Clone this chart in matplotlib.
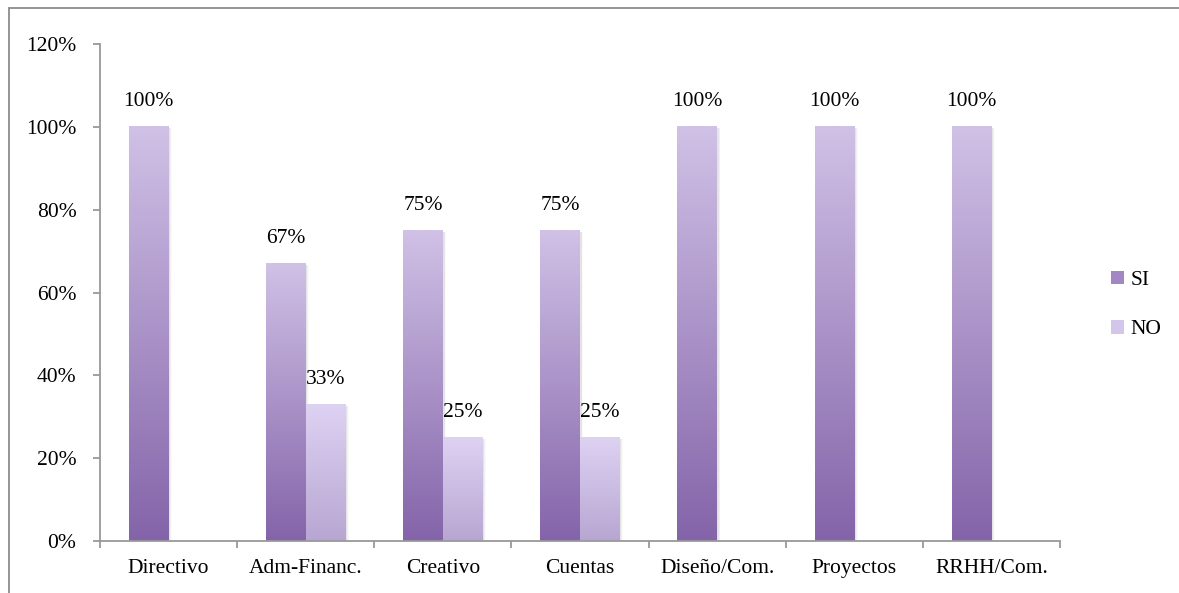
import numpy as np
import matplotlib
matplotlib.use("Agg")
import matplotlib.pyplot as plt
from matplotlib.colors import LinearSegmentedColormap
from matplotlib.patches import Rectangle
from matplotlib.ticker import FuncFormatter

categories = ["Directivo", "Adm-Financ.", "Creativo", "Cuentas", "Diseño/Com.", "Proyectos", "RRHH/Com."]
si_values = [100, 67, 75, 75, 100, 100, 100]
no_values = [0, 33, 25, 25, 0, 0, 0]
series_names = ["SI", "NO"]

plt.rcParams["font.family"] = ["Liberation Serif", "DejaVu Serif"]
FS = 15.5

fig = plt.figure(figsize=(11.79, 5.93), dpi=100)
ax = fig.add_axes([100 / 1179, 1 - 541 / 593, 960 / 1179, (541 - 44) / 593])

# outer chart frame (top and left edges visible)
fig.add_artist(Rectangle((9 / 1179, -0.1), 1.2, 1 - 8 / 593 + 0.1, transform=fig.transFigure,
                         fill=False, edgecolor="#8c8c8c", linewidth=1.3, zorder=0))

si_cmap = LinearSegmentedColormap.from_list("si", ["#8464a9", "#d0c1e6"])
no_cmap = LinearSegmentedColormap.from_list("no", ["#b7a6d2", "#ded2f3"])

x = np.arange(len(categories))
w = 0.29
grad = np.linspace(0, 1, 256).reshape(-1, 1)


def gradient_bar(xc, h, cmap):
    if h <= 0:
        return
    left = xc - w / 2
    # soft shadow on the right side
    for i, a in enumerate([0.10, 0.07, 0.04]):
        ax.add_patch(Rectangle((left + 0.012 + i * 0.006, 0), w, h - 0.3,
                               facecolor="#808080", alpha=a, edgecolor="none", zorder=1))
    ax.imshow(grad, cmap=cmap, origin="lower", aspect="auto",
              extent=(left, left + w, 0, h), zorder=2, interpolation="bilinear")


for i in range(len(categories)):
    gradient_bar(x[i] - w / 2, si_values[i], si_cmap)
    gradient_bar(x[i] + w / 2, no_values[i], no_cmap)
    if si_values[i] > 0:
        ax.annotate(f"{si_values[i]}%", (x[i] - w / 2, si_values[i]), xytext=(0, 18),
                    textcoords="offset points", ha="center", va="center", fontsize=FS)
    if no_values[i] > 0:
        ax.annotate(f"{no_values[i]}%", (x[i] + w / 2, no_values[i]), xytext=(0, 18),
                    textcoords="offset points", ha="center", va="center", fontsize=FS)

ax.set_xlim(-0.5, len(categories) - 0.5)
ax.set_ylim(0, 120)
ax.set_yticks(np.arange(0, 121, 20))
ax.yaxis.set_major_formatter(FuncFormatter(lambda v, p: f"{int(v)}%"))
ax.set_xticks(x)
ax.set_xticklabels(categories)
ax.set_xticks(np.arange(-0.5, len(categories)), minor=True)
ax.tick_params(axis="x", which="major", length=0, pad=13, labelsize=FS)
ax.tick_params(axis="x", which="minor", length=5, color="#999999", width=1.3)
ax.tick_params(axis="y", length=5, color="#999999", width=1.3, pad=12, labelsize=FS)

for s in ["top", "right"]:
    ax.spines[s].set_visible(False)
for s in ["left", "bottom"]:
    ax.spines[s].set_color("#999999")
    ax.spines[s].set_linewidth(1.3)

# legend
handles = [Rectangle((0, 0), 1, 1, facecolor="#a287c3"), Rectangle((0, 0), 1, 1, facecolor="#d3c6ea")]
fig.legend(handles, series_names, loc="center left", bbox_to_anchor=(1092 / 1179, 1 - 305 / 593),
           frameon=False, fontsize=FS, handlelength=0.6, handleheight=0.6, handletextpad=0.3,
           labelspacing=1.4)

fig.savefig("out.png", dpi=100, facecolor="white")
